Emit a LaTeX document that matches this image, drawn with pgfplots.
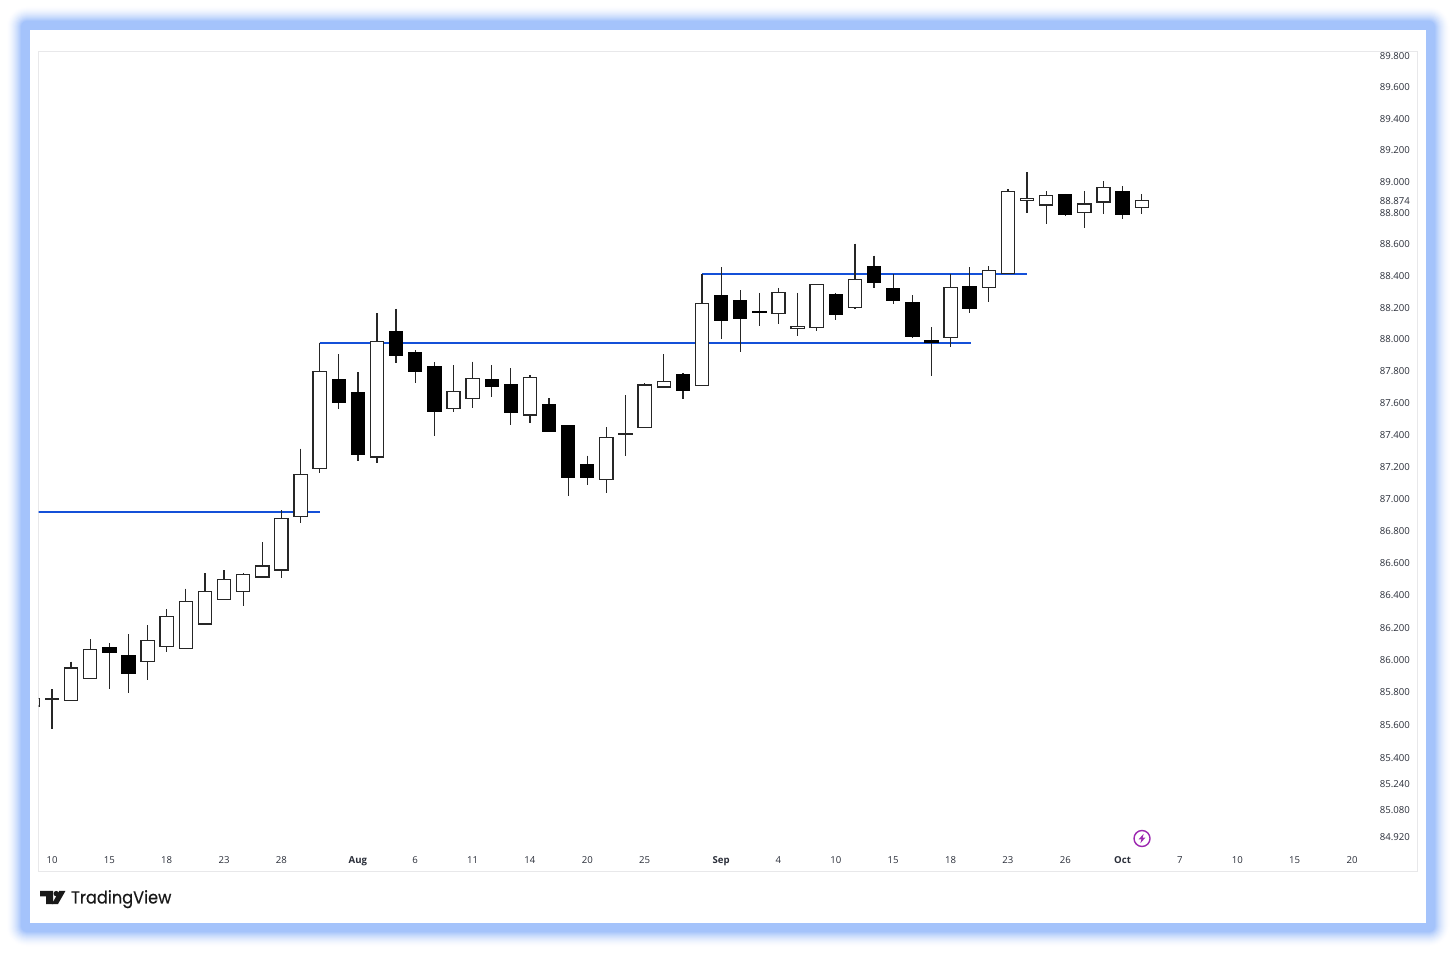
\documentclass[border=0pt]{standalone}
\usepackage{fontspec}
\usepackage{pgfplots}
\pgfplotsset{compat=1.18}
\setmainfont{Open Sans}
\definecolor{glow}{HTML}{A4C3FB}
\definecolor{lvl}{HTML}{1450D8}
\definecolor{frame}{HTML}{E8E8EA}
\definecolor{ticktext}{HTML}{2A2E39}
\definecolor{boltc}{HTML}{9C27B0}
\newcommand{\candleup}[5]{%
  \pgfmathsetmacro\xl{#1-0.345}\pgfmathsetmacro\xr{#1+0.345}%
  \addplot[black!85,line width=1.25pt,forget plot] coordinates {(#1,#3)(#1,#4)};
  \addplot[draw=black!85,fill=white,line width=1.25pt,forget plot] coordinates {(\xl,#2)(\xr,#2)(\xr,#5)(\xl,#5)} --cycle;
}
\newcommand{\candledn}[5]{%
  \pgfmathsetmacro\xl{#1-0.345}\pgfmathsetmacro\xr{#1+0.345}%
  \addplot[black!85,line width=1.25pt,forget plot] coordinates {(#1,#3)(#1,#4)};
  \addplot[draw=black,fill=black,line width=1.2pt,forget plot] coordinates {(\xl,#2)(\xr,#2)(\xr,#5)(\xl,#5)} --cycle;
}
\begin{document}
\begin{tikzpicture}[x=1pt,y=1pt]
\path[use as bounding box] (0,0) rectangle (1456,953);
\fill[white] (0,0) rectangle (1456,953);
% soft glow behind the panel
\foreach \k in {0,...,14}{
  \pgfmathsetmacro\e{14-\k}
  \pgfmathsetmacro\p{100*((\k+1)/15)^1.6}
  \fill[glow!\p!white,rounded corners={6pt+\e pt}] (21-\e,953-932-\e) rectangle (1435+\e,953-21+\e);
}
\fill[white] (30,953-923) rectangle (1426,953-30);
\begin{axis}[
  at={(38.5pt,81pt)},anchor=south west,
  scale only axis,width=1379pt,height=820pt,
  y coord trafo/.code={\pgfmathparse{1000*ln(#1/84)}},
  xmin=-0.706,xmax=71.425,ymin=84.699,ymax=89.8225,
  axis line style={draw=frame,line width=1pt},
  major tick length=0pt,minor tick length=0pt,
  tick style={draw=none},
  xtick={0,3,6,9,12,16,19,22,25,28,31,35,38,41,44,47,50,53,56,59,62,65,68},
  xticklabels={10,15,18,23,28,\textbf{Aug},6,11,14,20,25,\textbf{Sep},4,10,15,18,23,26,\textbf{Oct},7,10,15,20},
  ytick={89.8,89.6,89.4,89.2,89.0,88.874,88.8,88.6,88.4,88.2,88.0,87.8,87.6,87.4,87.2,87.0,86.8,86.6,86.4,86.2,86.0,85.8,85.6,85.4,85.24,85.08,84.92},
  yticklabels={89.800,89.600,89.400,89.200,89.000,88.874,88.800,88.600,88.400,88.200,88.000,87.800,87.600,87.400,87.200,87.000,86.800,86.600,86.400,86.200,86.000,85.800,85.600,85.400,85.240,85.080,84.920},
  yticklabel pos=right,
  yticklabel style={anchor=east,inner sep=0pt,xshift=-7.5pt,yshift=-1pt,font=\fontsize{9.6}{10}\selectfont,text=ticktext},
  xticklabel style={anchor=base,inner sep=0pt,yshift=8pt,font=\fontsize{9.6}{10}\selectfont,text=ticktext},
]
% level lines
\addplot[lvl,line width=2pt,forget plot] coordinates {(-1,86.913)(14.03,86.913)};
\addplot[lvl,line width=2pt,forget plot] coordinates {(14,87.972)(48.05,87.972)};
\addplot[lvl,line width=2pt,forget plot] coordinates {(34,88.409)(51,88.409)};
% index, open, high, low, close
\candleup{-1}{85.712}{85.80}{85.68}{85.761}
\candleup{0}{85.752}{85.816}{85.572}{85.755}
\candleup{1}{85.749}{85.983}{85.749}{85.946}
\candleup{2}{85.882}{86.123}{85.882}{86.059}
\candledn{3}{86.071}{86.098}{85.815}{86.043}
\candledn{4}{86.020}{86.153}{85.794}{85.913}
\candleup{5}{85.987}{86.209}{85.872}{86.116}
\candleup{6}{86.077}{86.309}{86.043}{86.266}
\candleup{7}{86.063}{86.437}{86.063}{86.359}
\candleup{8}{86.215}{86.531}{86.215}{86.416}
\candleup{9}{86.369}{86.551}{86.369}{86.494}
\candleup{10}{86.416}{86.531}{86.328}{86.525}
\candleup{11}{86.508}{86.724}{86.508}{86.576}
\candleup{12}{86.551}{86.922}{86.502}{86.869}
\candleup{13}{86.884}{87.308}{86.841}{87.146}
\candleup{14}{87.183}{87.972}{87.156}{87.789}
\candledn{15}{87.741}{87.900}{87.554}{87.600}
\candledn{16}{87.663}{87.785}{87.228}{87.273}
\candleup{17}{87.255}{88.159}{87.218}{87.980}
\candledn{18}{88.043}{88.186}{87.846}{87.894}
\candledn{19}{87.911}{87.926}{87.722}{87.787}
\candledn{20}{87.820}{87.848}{87.384}{87.539}
\candleup{21}{87.558}{87.831}{87.537}{87.667}
\candleup{22}{87.623}{87.854}{87.558}{87.745}
\candledn{23}{87.741}{87.831}{87.631}{87.697}
\candledn{24}{87.705}{87.810}{87.457}{87.533}
\candleup{25}{87.518}{87.768}{87.467}{87.751}
\candledn{26}{87.584}{87.621}{87.408}{87.414}
\candledn{27}{87.451}{87.455}{87.012}{87.125}
\candledn{28}{87.210}{87.264}{87.075}{87.125}
\candleup{29}{87.115}{87.440}{87.029}{87.376}
\candleup{30}{87.395}{87.642}{87.260}{87.400}
\candleup{31}{87.438}{87.717}{87.438}{87.708}
\candleup{32}{87.693}{87.900}{87.688}{87.728}
\candledn{33}{87.773}{87.779}{87.615}{87.676}
\candleup{34}{87.703}{88.409}{87.703}{88.217}
\candledn{35}{88.270}{88.450}{87.993}{88.115}
\candledn{36}{88.234}{88.302}{87.913}{88.125}
\candledn{37}{88.171}{88.287}{88.077}{88.163}
\candleup{38}{88.157}{88.318}{88.088}{88.291}
\candleup{39}{88.062}{88.287}{88.014}{88.075}
\candleup{40}{88.069}{88.342}{88.045}{88.340}
\candledn{41}{88.274}{88.287}{88.115}{88.152}
\candleup{42}{88.195}{88.598}{88.182}{88.371}
\candledn{43}{88.455}{88.524}{88.318}{88.356}
\candledn{44}{88.312}{88.404}{88.214}{88.236}
\candledn{45}{88.224}{88.270}{88.003}{88.008}
\candledn{46}{87.984}{88.069}{87.760}{87.974}
\candleup{47}{88.006}{88.409}{87.945}{88.321}
\candledn{48}{88.329}{88.447}{88.157}{88.192}
\candleup{49}{88.321}{88.455}{88.230}{88.428}
\candleup{50}{88.411}{88.943}{88.411}{88.931}
\candleup{51}{88.871}{89.053}{88.795}{88.888}
\candleup{52}{88.844}{88.931}{88.725}{88.903}
\candledn{53}{88.912}{88.915}{88.774}{88.784}
\candleup{54}{88.797}{88.931}{88.699}{88.852}
\candleup{55}{88.861}{88.994}{88.784}{88.956}
\candledn{56}{88.931}{88.962}{88.753}{88.784}
\candleup{57}{88.826}{88.912}{88.788}{88.871}
\end{axis}
% clip the top tick label at the frame
\fill[white] (1370,953-51.4) rectangle (1416,953-40);
% lightning marker
\draw[boltc,line width=1.4pt] (1142,953-838.5) circle (8);
\fill[boltc] (1143.6,953-833.8) -- (1138.6,953-839.4) -- (1141.4,953-839.2) -- (1140.4,953-843.2) -- (1145.4,953-837.6) -- (1142.6,953-837.8) -- cycle;
% TradingView logo
\fill[black!90] (40,953-891) -- (53,953-891) -- (53,953-904) -- (46.2,953-904) -- (46.2,953-896.4) -- (40,953-896.4) -- cycle;
\fill[black!90] (56.2,953-893.6) circle (2.7);
\fill[black!90] (59.2,953-891) -- (65.4,953-891) -- (58,953-904) -- (51.8,953-904) -- cycle;
\node[anchor=base west,inner sep=0pt,text=black!90] at (71,953-903.5) {\fontspec{Poppins}[FakeStretch=0.925,FakeBold=0.4]\fontsize{17.5}{20}\selectfont TradingView};
\end{tikzpicture}
\end{document}
